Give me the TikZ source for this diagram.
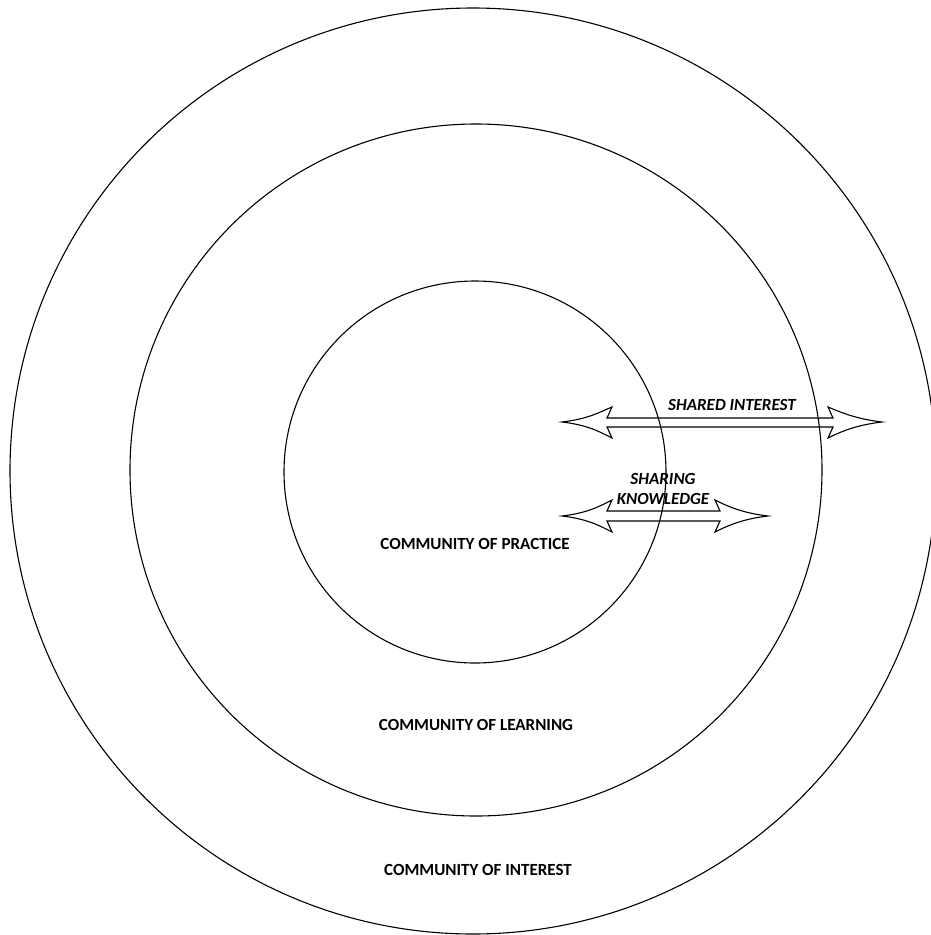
\documentclass[tikz,border=0pt]{standalone}
\usepackage{fontspec}
\setmainfont{Carlito}
\begin{document}
\begin{tikzpicture}[x=1pt,y=-1pt,
  ring/.style={draw, circle, line width=1.1pt, inner sep=0pt, outer sep=0pt},
  lab/.style={font=\fontsize{17}{20}\selectfont\bfseries, inner sep=0pt},
  arrowlab/.style={font=\fontsize{17}{20}\selectfont\bfseries\itshape, align=center, inner sep=0pt},
  blockarrow/.style={draw, line width=1.1pt, line join=miter}]
\useasboundingbox (0,0) rectangle (931,935);
\clip (0,0) rectangle (931,935);
% rings
\node[ring, minimum size=926pt] (outer) at (473,471) {};
\node[ring, minimum size=692pt] (middle) at (476,470) {};
\node[ring, minimum size=382pt] (inner) at (475,472) {};
% labels
\node[lab] (cop) at (475,544) {COMMUNITY OF PRACTICE};
\node[lab] (col) at (476,725) {COMMUNITY OF LEARNING};
\node[lab] (coi) at (478,870) {COMMUNITY OF INTEREST};
% arrows
\draw[blockarrow] (562,422) .. controls (588,419) and (600,412) .. (612,407) -- (607,418) -- (833,418) -- (828,407) .. controls (840,412) and (856,419) .. (882,422) .. controls (856,425) and (840,432) .. (828,438) -- (833,427) -- (607,427) -- (612,438) .. controls (600,432) and (588,425) .. (562,422) -- cycle;
\draw[blockarrow] (562,516) .. controls (588,513) and (600,506) .. (612,500) -- (607,511) -- (720,511) -- (715,500) .. controls (727,506) and (742,513) .. (768,516) .. controls (742,519) and (727,526) .. (715,532) -- (720,521) -- (607,521) -- (612,532) .. controls (600,526) and (588,519) .. (562,516) -- cycle;
\node[arrowlab] (si) at (732,405) {SHARED INTEREST};
\node[arrowlab] (sk) at (663,489) {SHARING\\KNOWLEDGE};
\end{tikzpicture}
\end{document}
